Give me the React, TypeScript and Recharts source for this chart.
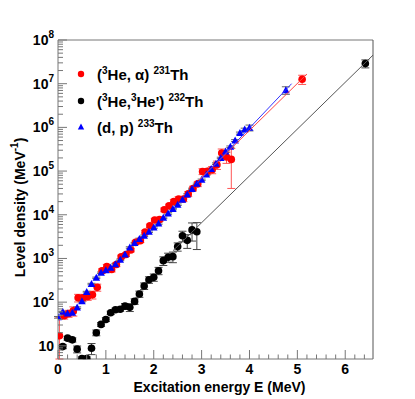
import React from 'react';
import { ComposedChart, Scatter, XAxis, YAxis, ErrorBar, ReferenceLine, Label } from 'recharts';

// (3He, alpha) 231Th
const alphaE = [0.03, 0.13, 0.22, 0.32, 0.42, 0.52, 0.62, 0.72, 0.82, 0.92, 1.02, 1.12, 1.22, 1.32, 1.42, 1.52, 1.62, 1.72, 1.82, 1.92, 2.02, 2.12, 2.22, 2.32, 2.42, 2.52, 2.62, 2.72, 2.82, 2.92, 3.02, 3.12, 3.22, 3.32, 3.42, 3.52, 3.62, 5.1];
const alphaRho = [17, 49, 55, 63, 126, 126, 135, 148, 218, 520, 650, 560, 730, 1090, 1230, 1560, 2330, 2560, 4000, 5600, 7600, 7800, 13000, 16000, 20000, 23000, 23000, 30000, 40000, 51000, 98000, 99000, 107000, 139000, 260000, 210000, 185000, 1.26e7];
const alphaErr = [28, 8, 10, 15, 25, 20, 25, 30, 40, 60, 80, 70, 80, 100, 120, 150, 200, 250, 400, 500, 700, 800, 1300, 1500, 2500, 3000, 3000, 4000, 5000, 7000, 15000, 15000, 20000, 30000, 60000, 60000, 145000, 3e6];

// (3He, 3He') 232Th
const inelE = [0.1, 0.2, 0.3, 0.4, 0.5, 0.6, 0.7, 0.8, 0.9, 1.0, 1.1, 1.2, 1.3, 1.4, 1.5, 1.6, 1.7, 1.8, 1.9, 2.0, 2.1, 2.2, 2.3, 2.4, 2.5, 2.6, 2.7, 2.8, 2.9, 6.42];
const inelRho = [9.6, 15, 13.7, 8.4, 5.1, 5.1, 8.8, 20, 31, 40, 57, 67, 69, 81, 76, 104, 154, 235, 325, 370, 525, 890, 1070, 1100, 1870, 3300, 2600, 4500, 4100, 2.9e7];
const inelErr = [1, 1.5, 1.5, 1.5, 0.5, 0.5, 2.5, 3, 3, 4, 5, 6, 7, 12, 15, 15, 25, 40, 55, 70, 100, 200, 250, 300, 400, 900, 900, 2000, 2500, 6e6];

// (d, p) 233Th
const dpE = [0.0, 0.1, 0.2, 0.3, 0.4, 0.5, 0.6, 0.7, 0.8, 0.9, 1.0, 1.1, 1.2, 1.3, 1.4, 1.5, 1.6, 1.7, 1.8, 1.9, 2.0, 2.1, 2.2, 2.3, 2.4, 2.5, 2.6, 2.7, 2.8, 2.9, 3.0, 3.1, 3.2, 3.3, 3.4, 3.5, 3.6, 3.7, 3.8, 3.9, 4.0, 4.76];
const dpRho = [45, 60, 55, 57, 75, 105, 170, 260, 360, 470, 540, 610, 740, 930, 1230, 1780, 2250, 2800, 3300, 4100, 5100, 6300, 8500, 10700, 13500, 17000, 22000, 29000, 39000, 51000, 63000, 83000, 112000, 148000, 200000, 280000, 360000, 500000, 740000, 900000, 980000, 7.1e6];
const dpErr = [2, 2, 2, 2, 3, 4, 7, 10, 14, 19, 22, 25, 30, 37, 50, 70, 90, 110, 130, 160, 200, 250, 340, 430, 540, 680, 880, 1200, 1600, 2000, 2500, 3300, 4500, 6000, 8000, 11000, 15000, 25000, 40000, 60000, 150000, 1.4e6];

// fit lines
const alphaFitE = [2.95, 5.2];
const alphaFitRho = [63000, 1.66e7];
const dpFitE = [2.9, 4.88];
const dpFitRho = [52000, 1.0e7];
const inelFitE = [2.4, 6.58];
const inelFitRho = [1500, 4.5e7];

const Y_MIN = 5;
const xMajor = [0, 1, 2, 3, 4, 5, 6];
const xMinor = Array.from({ length: 33 }, (_, i) => Math.round(i * 2) / 10).filter((v) => v % 1 !== 0);
const yMajor = [10, 1e2, 1e3, 1e4, 1e5, 1e6, 1e7, 1e8];
const yMinor = [6, 7, 8, 9].concat(...[10, 1e2, 1e3, 1e4, 1e5, 1e6, 1e7].map((d) => [2, 3, 4, 5, 6, 7, 8, 9].map((k) => k * d)));

// lower error is cut at the axis floor so the log scale stays finite
const build = (e: number[], rho: number[], err: number[]) =>
  e.map((x, i) => ({ e: x, rho: rho[i], err: [Math.max(0, Math.min(err[i], rho[i] - Y_MIN)), err[i]] }));

const alphaData = build(alphaE, alphaRho, alphaErr);
const inelData = build(inelE, inelRho, inelErr);
const dpData = build(dpE, dpRho, dpErr);
const alphaFit = alphaFitE.map((x, i) => ({ e: x, rho: alphaFitRho[i] }));
const dpFit = dpFitE.map((x, i) => ({ e: x, rho: dpFitRho[i] }));
const inelFit = inelFitE.map((x, i) => ({ e: x, rho: inelFitRho[i] }));

const FONT = '"Liberation Sans", Arial, Helvetica, sans-serif';
const AXIS = '#777';

const isMajor = (v: number) => Math.abs(Math.log10(v) - Math.round(Math.log10(v))) < 1e-6;

const YTick = (props: any) => {
  const { x, y, payload } = props;
  const v = payload.value;
  const major = isMajor(v);
  const exp = Math.round(Math.log10(v));
  return (
    <g>
      <line x1={x} x2={x + (major ? 9 : 5)} y1={y} y2={y} stroke={AXIS} />
      {major && (
        <text x={x - 4} y={y + 5} textAnchor="end" fontFamily={FONT} fontWeight="bold" fontSize={14} fill="#000">
          <tspan>10</tspan>
          {exp !== 1 && <tspan dy={-7} fontSize={10}>{exp}</tspan>}
        </text>
      )}
    </g>
  );
};

const XTick = (props: any) => {
  const { x, y, payload } = props;
  const v = payload.value;
  const major = Math.abs(v - Math.round(v)) < 1e-6;
  return (
    <g>
      <line x1={x} x2={x} y1={y} y2={y - (major ? 9 : 4.5)} stroke={AXIS} />
      {major && (
        <text x={x} y={y + 15} textAnchor="middle" fontFamily={FONT} fontWeight="bold" fontSize={14} fill="#000">
          {v}
        </text>
      )}
    </g>
  );
};

const dot = (color: string, r: number) => (p: any) => <circle cx={p.cx} cy={p.cy} r={r} fill={color} />;
const tri = (p: any) => (
  <polygon points={`${p.cx},${p.cy - 4} ${p.cx - 3.8},${p.cy + 3} ${p.cx + 3.8},${p.cy + 3}`} fill="#0000ff" />
);
const none = () => <g />;

const legendRows = [
  { marker: 'red', pre: '(', sup1: '3', mid: 'He, α) ', sup2: '231', post: 'Th' },
  { marker: 'black', pre: '(', sup1: '3', mid: 'He,', sup1b: '3', midb: "He') ", sup2: '232', post: 'Th' },
  { marker: 'blue', pre: '(d, p) ', sup1: '', mid: '', sup2: '233', post: 'Th' },
];

export default function App() {
  return (
    <div style={{ position: 'absolute', left: 0, top: 0, width: 415, height: 399, background: '#fff' }}>
      <ComposedChart width={415} height={399} margin={{ top: 40, right: 42, bottom: 0, left: 0 }}>
        <XAxis
          type="number"
          dataKey="e"
          domain={[0, 6.58]}
          ticks={[...xMajor, ...xMinor]}
          interval={0}
          allowDataOverflow
          height={40}
          tickSize={0}
          tickMargin={0}
          tickLine={false}
          axisLine={{ stroke: AXIS }}
          tick={<XTick />}
        >
          <Label
            content={(p: any) => (
              <text
                x={p.viewBox.x + p.viewBox.width / 2 + 4}
                y={p.viewBox.y + 33}
                textAnchor="middle"
                fontFamily={FONT}
                fontWeight="bold"
                fontSize={14}
              >
                Excitation energy E (MeV)
              </text>
            )}
          />
        </XAxis>
        <YAxis
          type="number"
          dataKey="rho"
          scale="log"
          domain={[Y_MIN, 1e8]}
          ticks={[...yMajor, ...yMinor]}
          interval={0}
          allowDataOverflow
          width={58}
          tickSize={0}
          tickMargin={0}
          tickLine={false}
          axisLine={{ stroke: AXIS }}
          tick={<YTick />}
        >
          <Label
            content={(p: any) => {
              const cx = 21;
              const cy = p.viewBox.y + p.viewBox.height / 2 + 8;
              return (
                <text
                  x={cx}
                  y={cy}
                  transform={`rotate(-90 ${cx} ${cy})`}
                  textAnchor="middle"
                  dominantBaseline="middle"
                  fontFamily={FONT}
                  fontWeight="bold"
                  fontSize={14}
                >
                  <tspan>Level density (MeV</tspan>
                  <tspan dy={-6} fontSize={10}>-1</tspan>
                  <tspan dy={6}>)</tspan>
                </text>
              );
            }}
          />
        </YAxis>
        <ReferenceLine y={1e8} stroke={AXIS} />
        <ReferenceLine x={6.58} stroke="#555" />

        <Scatter data={alphaData} shape={dot('#ff0000', 3.8)} isAnimationActive={false}>
          <ErrorBar dataKey="err" direction="y" width={4} stroke="#ff5555" strokeWidth={1} />
        </Scatter>
        <Scatter data={dpData} shape={tri} isAnimationActive={false}>
          <ErrorBar dataKey="err" direction="y" width={4} stroke="#666" strokeWidth={1} />
        </Scatter>
        <Scatter data={inelData} shape={dot('#000', 3.8)} isAnimationActive={false}>
          <ErrorBar dataKey="err" direction="y" width={4} stroke="#444" strokeWidth={1} />
        </Scatter>

        <Scatter data={alphaFit} shape={none} line={{ stroke: '#ff4444', strokeWidth: 1 }} isAnimationActive={false} />
        <Scatter data={dpFit} shape={none} line={{ stroke: '#3333ff', strokeWidth: 1 }} isAnimationActive={false} />
        <Scatter data={inelFit} shape={none} line={{ stroke: '#555', strokeWidth: 1 }} isAnimationActive={false} />
      </ComposedChart>

      <div style={{ position: 'absolute', left: 0, top: 0, fontFamily: FONT, fontWeight: 'bold', fontSize: 15 }}>
        {legendRows.map((r, i) => (
          <div key={i} style={{ position: 'absolute', top: 74 + i * 26.5 - 10, left: 74, height: 20, whiteSpace: 'nowrap', display: 'flex', alignItems: 'center' }}>
            <svg width={14} height={14} style={{ marginRight: 9 }}>
              {r.marker === 'blue' ? (
                <polygon points="7,3.5 3.8,9.5 10.2,9.5" fill="#0000ff" />
              ) : (
                <circle cx={7} cy={7} r={3.2} fill={r.marker === 'red' ? '#ff0000' : '#000'} />
              )}
            </svg>
            <span>
              {r.pre}
              {r.sup1 && <sup style={{ fontSize: 10 }}>{r.sup1}</sup>}
              {r.mid}
              {r.sup1b && <sup style={{ fontSize: 10 }}>{r.sup1b}</sup>}
              {r.midb}
              <sup style={{ fontSize: 10 }}>{r.sup2}</sup>
              {r.post}
            </span>
          </div>
        ))}
      </div>
    </div>
  );
}
